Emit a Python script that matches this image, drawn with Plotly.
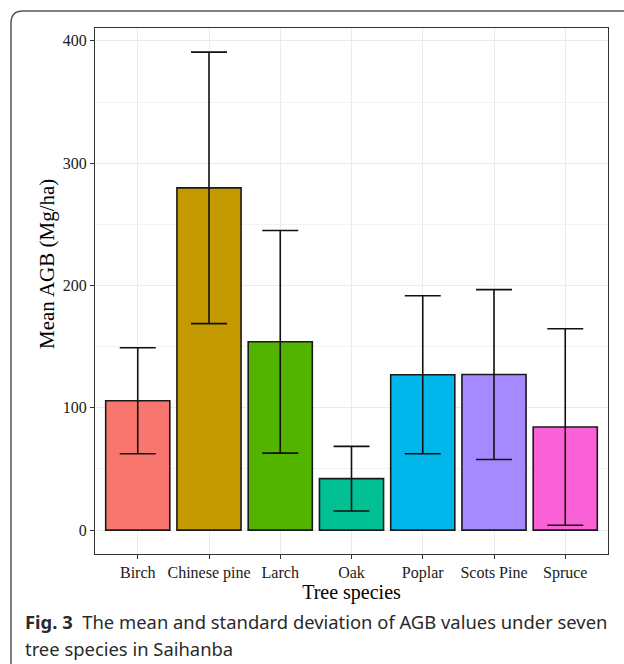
import plotly.graph_objects as go

species = ["Birch", "Chinese pine", "Larch", "Oak", "Poplar", "Scots Pine", "Spruce"]
mean_agb = [105.8, 279.8, 154.0, 42.1, 127.0, 127.2, 84.3]
sd_agb = [43.3, 111.0, 91.0, 26.4, 64.6, 69.4, 80.3]
colors = ["#F8766D", "#C49A00", "#53B400", "#00C094", "#00B6EB", "#A58AFF", "#FB61D7"]
y_ticks = [0, 100, 200, 300, 400]

W, H = 624, 664
L, R, T, B = 95, 16, 28, 110
pw, ph = W - L - R, H - T - B

def px_x(x):
    return (x - L) / pw

def px_y(y):
    return (H - B - y) / ph

fig = go.Figure()
fig.add_trace(go.Bar(
    x=species, y=mean_agb, width=0.9,
    marker=dict(color=colors, line=dict(color="#1a1a1a", width=1.6)),
    error_y=dict(type="data", array=sd_agb, visible=True, color="#111111",
                 thickness=1.6, width=18),
    showlegend=False,
))

serif = "Liberation Serif"
fig.update_layout(
    width=W, height=H,
    margin=dict(l=L, r=R, t=T, b=B),
    paper_bgcolor="white", plot_bgcolor="white",
    font=dict(family=serif, color="black"),
    xaxis=dict(
        showgrid=True, gridcolor="#EBEBEB", gridwidth=1.4,
        showline=True, linecolor="#333333", linewidth=1.2, mirror=True,
        ticks="outside", ticklen=4, tickcolor="#333333", tickwidth=1.2,
        tickfont=dict(family=serif, size=16, color="#1a1a1a"),
        title=dict(text="Tree species", font=dict(family=serif, size=20), standoff=2),
        range=[-0.6, 6.6], zeroline=False,
    ),
    yaxis=dict(
        range=[-19.5, 410.5],
        tickvals=y_ticks, ticktext=[str(v) for v in y_ticks],
        showgrid=True, gridcolor="#EBEBEB", gridwidth=1.4,
        minor=dict(dtick=50, tick0=0, showgrid=True, gridcolor="#F2F2F2", gridwidth=1),
        showline=True, linecolor="#333333", linewidth=1.2, mirror=True,
        ticks="outside", ticklen=4, tickcolor="#333333", tickwidth=1.2,
        tickfont=dict(family=serif, size=16, color="#1a1a1a"),
        zeroline=False,
    ),
)

# y-axis title placed as in the reference
fig.add_annotation(xref="paper", yref="paper", x=px_x(47), y=px_y(264),
                   xanchor="center", yanchor="middle", showarrow=False, textangle=-90,
                   text="Mean AGB (Mg/ha)", font=dict(family=serif, size=21, color="black"))

# card border with rounded top-left corner
r = 12
path = (f"M {px_x(11)},{px_y(H + 5)} L {px_x(11)},{px_y(11 + r)} "
        f"Q {px_x(11)},{px_y(11)} {px_x(11 + r)},{px_y(11)} L {px_x(W + 5)},{px_y(11)}")
fig.add_shape(type="path", path=path, xref="paper", yref="paper",
              line=dict(color="#555555", width=1.5))

cap_font = dict(family="Noto Sans", size=18.4, color="#2a2a2a")
fig.add_annotation(xref="paper", yref="paper", x=px_x(23), y=px_y(621),
                   xanchor="left", yanchor="middle", showarrow=False, align="left",
                   text="<b>Fig. 3</b>  The mean and standard deviation of AGB values under seven",
                   font=cap_font)
fig.add_annotation(xref="paper", yref="paper", x=px_x(23), y=px_y(648),
                   xanchor="left", yanchor="middle", showarrow=False, align="left",
                   text="tree species in Saihanba", font=cap_font)

fig.write_html("out.html")
